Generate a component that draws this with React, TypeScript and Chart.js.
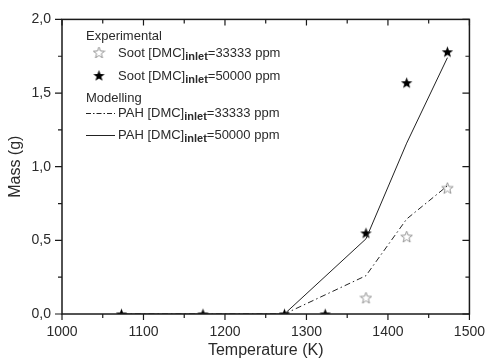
import React, { useEffect, useRef } from "react";
import { Chart, registerables } from "chart.js";

Chart.register(...registerables);

const sootTemps50000 = [1073, 1173, 1273, 1323, 1373, 1423, 1473];
const soot50000 = [0, 0, 0, 0, 0.55, 1.57, 1.78];
const sootTemps33333 = [1373, 1423, 1473];
const soot33333 = [0.11, 0.525, 0.855];
const pahTemps = [1073, 1173, 1273, 1373, 1423, 1473];
const pah50000 = [0, 0, 0, 0.51, 1.16, 1.74];
const pah33333 = [0, 0, 0, 0.26, 0.645, 0.87];

const xTickLabels = ["1000", "1100", "1200", "1300", "1400", "1500"];
const yTickLabels = ["0,0", "0,5", "1,0", "1,5", "2,0"];

const FONT = "'Liberation Sans', Arial, sans-serif";
const TEXT = "#2a2a2a";

function starPath(ctx: CanvasRenderingContext2D, cx: number, cy: number, ro: number, ri: number) {
  ctx.beginPath();
  for (let i = 0; i < 10; i++) {
    const r = i % 2 === 0 ? ro : ri;
    const a = -Math.PI / 2 + (i * Math.PI) / 5;
    const x = cx + r * Math.cos(a);
    const y = cy + r * Math.sin(a);
    if (i === 0) ctx.moveTo(x, y);
    else ctx.lineTo(x, y);
  }
  ctx.closePath();
}

function makeStar(filled: boolean): HTMLCanvasElement {
  const c = document.createElement("canvas");
  c.width = 13;
  c.height = 13;
  const ctx = c.getContext("2d")!;
  starPath(ctx, 6.5, 7, 6, 2.5);
  if (filled) {
    ctx.fillStyle = "#000";
    ctx.fill();
  } else {
    ctx.strokeStyle = "#8a8a8a";
    ctx.lineWidth = 0.9;
    ctx.stroke();
  }
  return c;
}

function drawSubLabel(ctx: CanvasRenderingContext2D, x: number, y: number, pre: string, sub: string, post: string) {
  ctx.fillStyle = TEXT;
  ctx.textBaseline = "middle";
  ctx.textAlign = "left";
  ctx.font = `13px ${FONT}`;
  ctx.fillText(pre, x, y);
  let w = ctx.measureText(pre).width;
  ctx.font = `bold 11px ${FONT}`;
  ctx.fillText(sub, x + w, y + 4);
  w += ctx.measureText(sub).width;
  ctx.font = `13px ${FONT}`;
  ctx.fillText(post, x + w, y);
}

const framePlugin = {
  id: "frameTicks",
  afterDraw(chart: any) {
    const ctx = chart.ctx as CanvasRenderingContext2D;
    const { left, right, top, bottom } = chart.chartArea;
    const xs = chart.scales.x;
    const ys = chart.scales.y;
    ctx.save();
    ctx.strokeStyle = "#1a1a1a";
    ctx.lineWidth = 1.5;
    ctx.strokeRect(left, top, right - left, bottom - top);
    ctx.lineWidth = 1.2;
    ctx.beginPath();
    for (let v = 1000; v <= 1500; v += 50) {
      const px = xs.getPixelForValue(v);
      const len = v % 100 === 0 ? 6 : 4;
      ctx.moveTo(px, bottom);
      ctx.lineTo(px, bottom + len);
      ctx.moveTo(px, top);
      ctx.lineTo(px, top + len);
    }
    for (let v = 0; v <= 2.0001; v += 0.25) {
      const py = ys.getPixelForValue(v);
      const major = Math.abs(v * 2 - Math.round(v * 2)) < 1e-6;
      const len = major ? 7 : 4;
      ctx.moveTo(left, py);
      ctx.lineTo(left - len, py);
      ctx.moveTo(right, py);
      ctx.lineTo(right - len, py);
    }
    ctx.stroke();

    // legend
    ctx.font = `13px ${FONT}`;
    ctx.fillStyle = TEXT;
    ctx.textBaseline = "middle";
    ctx.textAlign = "left";
    ctx.fillText("Experimental", 86, 36);
    const open = makeStar(false);
    const filled = makeStar(true);
    ctx.drawImage(open, 99 - 6.5, 53 - 7);
    drawSubLabel(ctx, 118, 53, "Soot [DMC]", "inlet", "=33333 ppm");
    ctx.drawImage(filled, 99 - 6.5, 76 - 7);
    drawSubLabel(ctx, 118, 76, "Soot [DMC]", "inlet", "=50000 ppm");
    ctx.fillStyle = TEXT;
    ctx.font = `13px ${FONT}`;
    ctx.fillText("Modelling", 86, 98);
    ctx.strokeStyle = "#222";
    ctx.lineWidth = 1;
    ctx.setLineDash([5, 2, 1.5, 2]);
    ctx.beginPath();
    ctx.moveTo(86, 113.5);
    ctx.lineTo(115, 113.5);
    ctx.stroke();
    ctx.setLineDash([]);
    ctx.beginPath();
    ctx.moveTo(86, 135.5);
    ctx.lineTo(115, 135.5);
    ctx.stroke();
    drawSubLabel(ctx, 118, 113, "PAH [DMC]", "inlet", "=33333 ppm");
    drawSubLabel(ctx, 118, 135, "PAH [DMC]", "inlet", "=50000 ppm");
    ctx.restore();
  },
};

export default function App() {
  const ref = useRef<HTMLCanvasElement | null>(null);
  useEffect(() => {
    document.body.style.margin = "0";
    const openStar = makeStar(false);
    const filledStar = makeStar(true);
    const chart = new Chart(ref.current!, {
      type: "scatter",
      data: {
        datasets: [
          {
            label: "PAH 33333",
            type: "line",
            data: pahTemps.map((t, i) => ({ x: t, y: pah33333[i] })),
            borderColor: "#222",
            borderWidth: 1,
            borderDash: [6, 3, 1.5, 3],
            pointRadius: 0,
            fill: false,
            tension: 0,
          },
          {
            label: "PAH 50000",
            type: "line",
            data: pahTemps.map((t, i) => ({ x: t, y: pah50000[i] })),
            borderColor: "#222",
            borderWidth: 1,
            pointRadius: 0,
            fill: false,
            tension: 0,
          },
          {
            label: "Soot 33333",
            data: sootTemps33333.map((t, i) => ({ x: t, y: soot33333[i] })),
            pointStyle: openStar as any,
            showLine: false,
            clip: 0,
          },
          {
            label: "Soot 50000",
            data: sootTemps50000.map((t, i) => ({ x: t, y: soot50000[i] })),
            pointStyle: filledStar as any,
            showLine: false,
            clip: 0,
          },
        ],
      },
      options: {
        responsive: false,
        animation: false,
        layout: { padding: { top: 17, right: 17, left: 0, bottom: 0 } },
        plugins: { legend: { display: false }, tooltip: { enabled: false } },
        scales: {
          x: {
            type: "linear",
            min: 1000,
            max: 1500,
            afterFit: (s: any) => {
              s.height = 45;
            },
            afterBuildTicks: (s: any) => {
              s.ticks = xTickLabels.map((l) => ({ value: Number(l) }));
            },
            grid: { display: false, drawTicks: false },
            border: { display: false },
            ticks: {
              padding: 10,
              color: TEXT,
              font: { family: FONT, size: 14 },
              callback: (v: any) => xTickLabels.find((l) => Number(l) === v) ?? "",
              maxRotation: 0,
            },
            title: {
              display: true,
              text: "Temperature (K)",
              color: TEXT,
              font: { family: FONT, size: 16, lineHeight: 1 },
              padding: { top: 0, bottom: 0 },
            },
          },
          y: {
            type: "linear",
            min: 0,
            max: 2,
            afterFit: (s: any) => {
              s.width = 62;
            },
            afterBuildTicks: (s: any) => {
              s.ticks = yTickLabels.map((l) => ({ value: Number(l.replace(",", ".")) }));
            },
            grid: { display: false, drawTicks: false },
            border: { display: false },
            ticks: {
              padding: 11,
              color: TEXT,
              font: { family: FONT, size: 14 },
              callback: (v: any) => yTickLabels.find((l) => Number(l.replace(",", ".")) === v) ?? "",
            },
            title: {
              display: true,
              text: "Mass (g)",
              color: TEXT,
              font: { family: FONT, size: 16, lineHeight: 1 },
              padding: { top: 8, bottom: 0 },
            },
          },
        },
      },
      plugins: [framePlugin],
    });
    return () => chart.destroy();
  }, []);
  return <canvas ref={ref} width={495} height={359} />;
}
